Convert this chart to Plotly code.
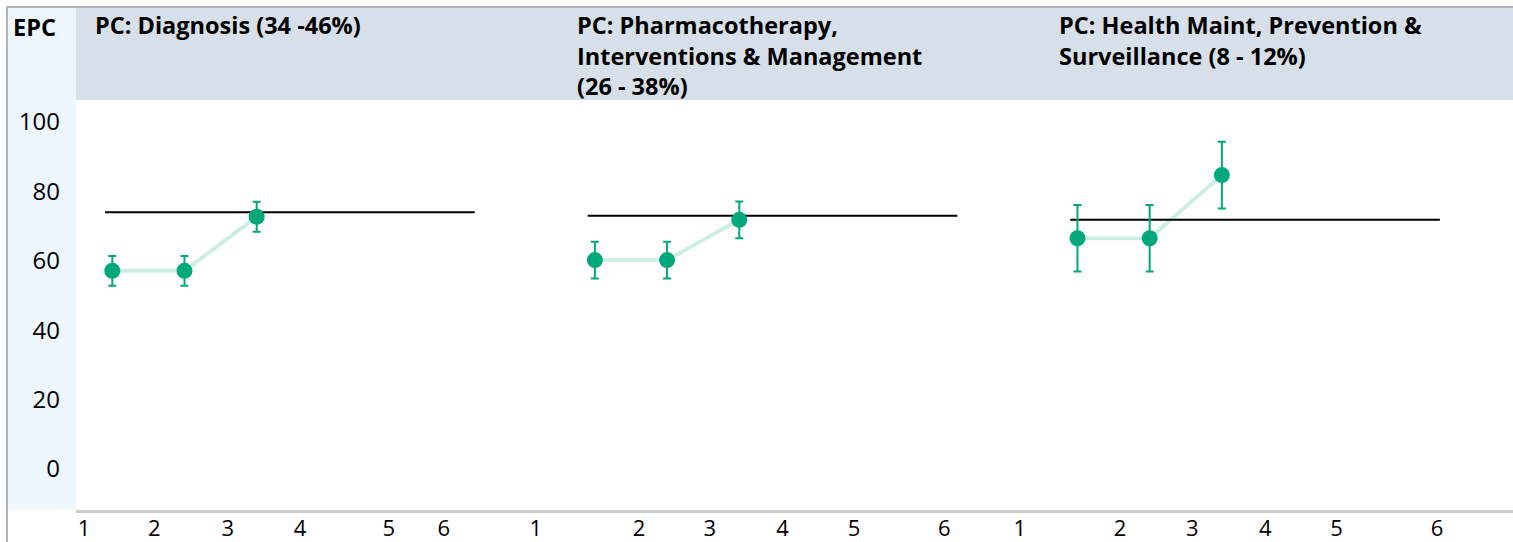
import plotly.graph_objects as go

# ---------------- data ----------------
panel_titles = [
    "PC: Diagnosis (34 -46%)",
    "PC: Pharmacotherapy,<br>Interventions & Management<br>(26 - 38%)",
    "PC: Health Maint, Prevention &<br>Surveillance (8 - 12%)",
]
row_label = "EPC"
levels = [1, 2, 3]
scores_diag = [57.1, 57.1, 72.7]
scores_pharm = [60.2, 60.2, 71.8]
scores_health = [66.5, 66.5, 84.7]
err_diag = [4.3, 4.3, 4.3]
err_pharm = [5.3, 5.3, 5.3]
err_health = [9.6, 9.6, 9.6]
targets = [74.0, 73.0, 71.8]
tick_labels = ["1", "2", "3", "4", "5", "6"]
tick_pos_diag = [0.61, 1.58, 2.60, 3.60, 4.83, 5.59]
tick_pos_pharm = [0.18, 1.61, 2.59, 3.60, 4.59, 5.84]
tick_pos_health = [0.20, 1.59, 2.59, 3.60, 4.59, 5.98]
y_ticks = [0, 20, 40, 60, 80, 100]

scores = [scores_diag, scores_pharm, scores_health]
errors = [err_diag, err_pharm, err_health]
tick_pos = [tick_pos_diag, tick_pos_pharm, tick_pos_health]

# ---------------- layout helpers ----------------
W, H = 1513, 542
ML, MR, MT, MB = 76, 0, 100, 32
PW, PH = W - ML - MR, H - MT - MB
PANEL_SHIFT = 6.684
TARGET_SPAN = [0.9, 6.02]


def px_x(p):
    return (p - ML) / PW


def px_y(p):
    return (H - MB - p) / PH


GREEN = "#00A87B"
MINT = "#CDEEE3"
FONT = "Open Sans"
TITLE_SIZE = 23.5

fig = go.Figure()

tickvals, ticktext = [], []
for k in range(3):
    off = k * PANEL_SHIFT
    xs = [v + off for v in levels]
    fig.add_trace(go.Scatter(
        x=xs, y=scores[k], mode="lines",
        line=dict(color=MINT, width=4), hoverinfo="skip", showlegend=False))
    fig.add_trace(go.Scatter(
        x=[TARGET_SPAN[0] + off, TARGET_SPAN[1] + off], y=[targets[k], targets[k]],
        mode="lines", line=dict(color="black", width=2), showlegend=False))
    fig.add_trace(go.Scatter(
        x=xs, y=scores[k], mode="markers",
        marker=dict(color=GREEN, size=16),
        error_y=dict(type="data", array=errors[k], color=GREEN, thickness=2, width=4),
        showlegend=False))
    tickvals += [t + off for t in tick_pos[k]]
    ticktext += tick_labels

x0 = 1 - (112.3 - ML) / 72.2
x1 = x0 + PW / 72.2

fig.update_xaxes(
    range=[x0, x1], tickvals=tickvals, ticktext=ticktext,
    showgrid=False, zeroline=False, ticks="",
    showline=True, linecolor="#C9C9C9", linewidth=3,
    tickfont=dict(family=FONT, size=22, color="black"),
    automargin=False, ticklabelstandoff=-3,
)
fig.update_yaxes(
    range=[-11.82, 106.34], tickvals=y_ticks,
    showgrid=False, zeroline=False, ticks="", showline=False,
    tickfont=dict(family=FONT, size=24, color="black"),
    automargin=False, ticklabelstandoff=15,
)

shapes = [
    # header band
    dict(type="rect", xref="paper", yref="paper", x0=0, x1=1, y0=1, y1=px_y(8),
         fillcolor="#D7DFE8", line=dict(width=0), layer="below"),
    # EPC column
    dict(type="rect", xref="paper", yref="paper", x0=px_x(8), x1=0, y0=0, y1=px_y(8),
         fillcolor="#EEF6FE", line=dict(width=0), layer="below"),
    # top border
    dict(type="line", xref="paper", yref="paper", x0=px_x(6), x1=1, y0=px_y(7), y1=px_y(7),
         line=dict(color="#B5B5B5", width=2)),
    # left border
    dict(type="line", xref="paper", yref="paper", x0=px_x(7), x1=px_x(7), y0=px_y(542), y1=px_y(6),
         line=dict(color="#B5B5B5", width=2)),
]

annotations = [
    dict(text=f"<b>{row_label}</b>", xref="paper", yref="paper", x=px_x(11), y=px_y(8.5),
         xanchor="left", yanchor="top", showarrow=False, align="left",
         font=dict(family=FONT, size=TITLE_SIZE, color="black")),
]
title_x = [93, 575, 1057]
for k in range(3):
    annotations.append(dict(
        text=f"<b>{panel_titles[k]}</b>", xref="paper", yref="paper",
        x=px_x(title_x[k]), y=px_y(7), xanchor="left", yanchor="top",
        showarrow=False, align="left",
        font=dict(family=FONT, size=TITLE_SIZE, color="black")))

fig.update_layout(
    width=W, height=H,
    margin=dict(l=ML, r=MR, t=MT, b=MB),
    plot_bgcolor="white", paper_bgcolor="white",
    shapes=shapes, annotations=annotations,
    showlegend=False,
)

fig.write_html("out.html", config={"displayModeBar": False},
               post_script="document.body.style.margin='0';")
